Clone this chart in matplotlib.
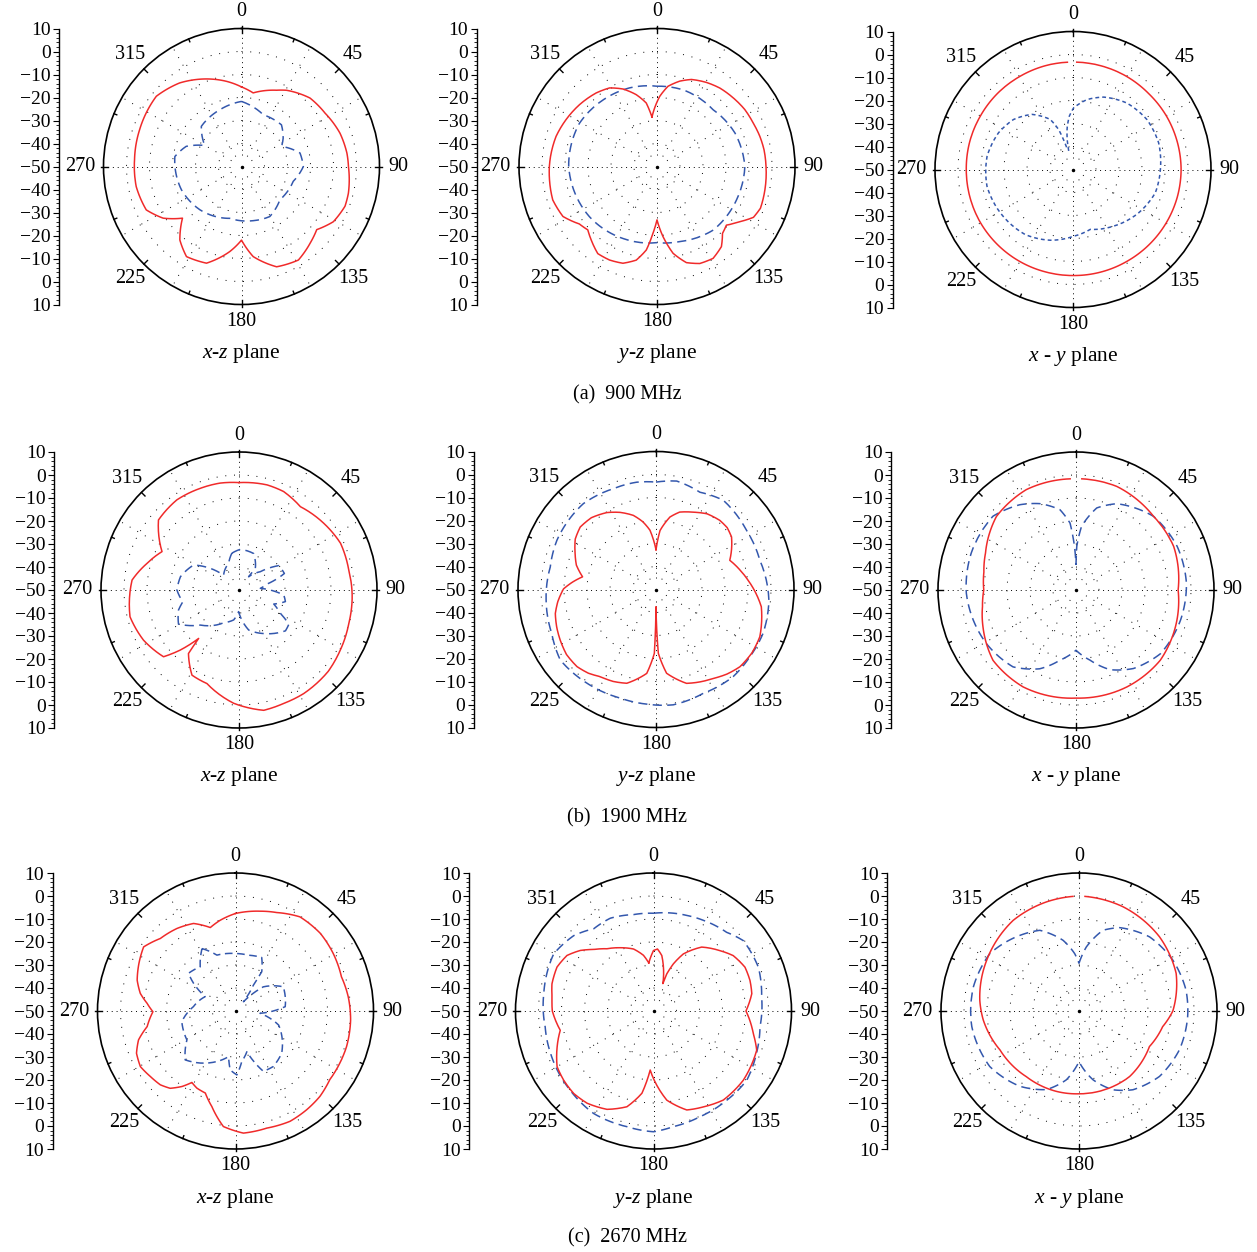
import numpy as np
import matplotlib
matplotlib.use("Agg")
import matplotlib.pyplot as plt
from matplotlib.ticker import MultipleLocator

plt.rcParams['font.family'] = ['Liberation Serif', 'DejaVu Serif']
plt.rcParams['mathtext.fontset'] = 'custom'
plt.rcParams['mathtext.it'] = 'Liberation Serif:italic'
plt.rcParams['mathtext.rm'] = 'Liberation Serif'

W, H = 1257, 1252

# ---- data: angle (deg, clockwise from top) and gain (dB) ----
# 900 MHz
xz900_red_ang = [0, 9, 24.7, 30.6, 45, 57.4, 71.3, 82.8, 90, 104, 111, 121, 130, 138, 148.7, 160.7,
                 172.6, 180, 187.8, 199.9, 211.4, 220, 228.8, 236.6, 245.5, 259.2, 273.6, 289.8, 309.5,
                 323.5, 338.2, 350]
xz900_red_db = [-15.4, -17.6, -13.5, -11.5, -7.9, -6.9, -4.8, -3.8, -3.5, -2.1, -1.8, -3.4, -7.3, -5.3,
                -2.4, -3.8, -10.5, -18.0, -12.7, -5.3, -4.1, -8.3, -15.9, -9.2, -4.5, -3.4, -3.4, -2.9,
                -2.0, -4.8, -9.0, -12.4]
xz900_blue_ang = [0, 22.8, 43.8, 55.8, 63.4, 77, 90, 106, 131, 150.5, 167.8, 192.7, 223.9, 248.7, 278.5,
                  290, 299.8, 315, 339]
xz900_blue_db = [-21.7, -25.6, -24.9, -28.1, -30.5, -23.9, -23.1, -26.6, -27.9, -25.0, -25.9, -26.9,
                 -23.9, -22.0, -20.7, -24.4, -31.6, -25.3, -23.6]

yz900_red_ang = [-5.8, 2.2, 7.8, 14.9, 21.6, 30.4, 38.7, 48, 57, 65.7, 73.7, 81.1, 90, 102.2, 112,
                 117.8, 123.6, 130.2, 135.6, 141.2, 148.6, 156.2, 163, 169.5, 175.1, 180, 183.4, 187.3,
                 192.5, 199.4, 206.9, 214.2, 221.8, 227.5, 233.5, 242, 252.2, 262.9, 270, 275.4, 286.6,
                 297.2, 308.6, 320.4, 328.9, 336.3, 343.9, 350.4]
yz900_red_db = [-28.4, -19.5, -14.8, -11.6, -9.3, -7.6, -6.3, -5.4, -4.5, -4.1, -3.4, -2.9, -2.6, -2.0,
                -1.5, -2.6, -6.7, -10.5, -9.3, -5.3, -3.2, -3.9, -6.3, -11.6, -19.4, -26.8, -21.0, -13.4,
                -8.3, -5.4, -4.4, -4.2, -7.1, -9.2, -8.0, -3.7, -2.4, -2.9, -3.2, -3.5, -4.2, -5.5, -6.9,
                -8.5, -10.1, -13.2, -17.5, -22.0]
yz900_blue_ang = [0, 20, 44.7, 66.8, 90, 112.8, 138.5, 163, 180, 205, 233.4, 270, 299, 323.4, 340.8]
yz900_blue_db = [-15.1, -14.8, -15.3, -13.1, -11.8, -12.5, -13.1, -15.9, -16.9, -15.4, -13.4, -11.6,
                 -11.4, -12.9, -13.8]

xy900_red_ang = [2, 15, 30, 45, 60, 75, 90, 105, 120, 135, 150, 165, 180, 195, 210, 225, 240, 255, 270,
                 285, 300, 315, 330, 345, 357]
xy900_red_db = [-3.3, -3.3, -3.3, -3.4, -3.2, -3.1, -3.0, -3.1, -3.3, -3.5, -3.7, -3.8, -3.9, -3.9, -3.8,
                -3.7, -3.6, -3.6, -3.6, -3.5, -3.5, -3.4, -3.4, -3.3, -3.3]
xy900_blue_ang = [-13, -11, -8, -4, 0.6, 11.3, 23, 39, 56, 72.7, 90, 105.8, 123.4, 144.3, 163.9, 179.4,
                  197.8, 216.3, 239.2, 259, 278.8, 296.3, 310, 323.3, 335.6, 340.3, 344]
xy900_blue_db = [-41.7, -36.7, -31.7, -26.8, -23.2, -19.0, -15.8, -12.8, -11.2, -11.0, -12.0, -12.8,
                 -15.8, -19.7, -22.9, -21.0, -17.7, -14.9, -13.2, -11.9, -12.2, -13.9, -16.2, -20.1,
                 -26.1, -31.6, -40.0]

# 1900 MHz
xz1900_red_ang = [0, 15, 24.4, 36.4, 51.8, 65.3, 79.7, 93.4, 106.9, 120.6, 132.4, 148, 158.5, 168.4,
                  182.7, 198.9, 208.9, 218.5, 219.8, 224.4, 228.5, 242.3, 256.2, 275.3, 286.2, 296.5, 311,
                  325.4, 339.2, 350]
xz1900_red_db = [-3.3, -2.7, -3.0, -5.0, -3.1, -1.4, -1.5, -0.7, -0.1, 1.2, 2.5, 3.1, 3.0, 3.4, -0.7,
                 -7.0, -7.7, -14.7, -22.6, -13.4, -6.2, -3.1, -1.2, -3.3, -8.4, -12.6, -3.6, -2.4, -2.7,
                 -2.8]
xz1900_blue_ang = [-11, 2, 21.8, 37, 36, 49.3, 58.5, 70, 78, 85.5, 96.4, 104, 112, 119.4, 124.4, 131.3,
                   150.3, 166.4, 181, 190, 205, 227.8, 240.6, 251.7, 258, 270, 282.8, 298.9, 307, 314, 339]
xz1900_blue_db = [-33.7, -32.3, -32.9, -38.2, -42.9, -37.8, -29.7, -29.0, -37.5, -40.7, -30.4, -29.2,
                  -33.7, -29.4, -23.7, -23.1, -28.2, -32.1, -40.6, -36.8, -34.3, -27.3, -19.8, -22.3,
                  -25.0, -23.0, -23.9, -27.5, -34.3, -40.7, -37.5]

yz1900_red_ang = [0, 3.9, 10.9, 17, 25.7, 34, 42.7, 49, 55.2, 62, 68.4, 77, 84.2, 99.3, 114.5, 123.5,
                  132.6, 140, 147.2, 155, 162, 172.8, 177.9, 180, 181.5, 186.3, 197.3, 205, 212.7, 219,
                  225.7, 234, 242.2, 249, 256.6, 263, 270.4, 275, 279.8, 287, 294, 302, 309.5, 318,
                  327.4, 335, 343, 349, 354.2]
yz1900_red_db = [-32.7, -24.3, -17.9, -14.8, -12.7, -10.3, -9.1, -9.0, -10.0, -12.8, -15.5, -12.5,
                 -9.8, -3.6, -0.4, 0.0, -0.4, -2.0, -4.0, -5.6, -7.1, -13.3, -22.2, -42.5, -22.2, -13.3,
                 -7.3, -5.9, -5.0, -3.2, -2.0, -1.9, -2.9, -3.8, -5.0, -7.0, -9.8, -13.5, -17.6, -13.8,
                 -11.5, -8.6, -7.3, -8.0, -10.3, -13.0, -16.3, -20.0, -24.1]
yz1900_blue_ang = [0, 10.8, 24.3, 37, 56.8, 74.2, 95.4, 112.3, 125.6, 138.5, 155.5, 171.5, 184.6, 198.3,
                   216.4, 233.6, 247.1, 264.5, 282, 296.4, 319.8, 337, 349.8]
yz1900_blue_db = [-3.3, -2.0, -3.6, -1.4, -3.0, -3.1, -0.7, 0.3, 0.2, 0.6, -0.4, 0.7, 0.0, -0.3, 0.6,
                  1.7, -0.8, -2.0, -3.0, -1.9, -1.1, -2.4, -2.6]

xy1900_red_ang = [3, 21.5, 46.5, 66, 90, 110.3, 129.8, 152.3, 180, 208.6, 229.7, 248.4, 259.9, 270, 281,
                  292.2, 312.7, 333.7, 357]
xy1900_red_db = [-1.6, -1.6, -3.5, -3.5, -5.6, -3.9, -2.3, -2.4, -3.0, -2.0, -2.7, -6.5, -8.7, -9.9,
                 -9.2, -7.5, -2.9, -1.3, -1.6]
xy1900_blue_ang = [0, 1, 5, 14.2, 25.3, 46.5, 66.7, 86.5, 106, 127, 143.8, 156.8, 168.7, 180, 192.9,
                   204.7, 219.3, 239.2, 268.3, 289.4, 311.6, 326.6, 337.3, 348.7, 354.9, 358]
xy1900_blue_db = [-39.1, -31.1, -22.2, -13.2, -8.5, -3.5, -2.1, -1.9, -2.7, -4.0, -7.7, -12.3, -18.9,
                  -23.8, -18.7, -12.3, -6.8, -4.6, -2.3, -1.7, -1.7, -5.6, -9.3, -14.4, -20.8, -31.0]

# 2670 MHz
xz2670_red_ang = [0, 13.9, 22.7, 34.4, 47.5, 59.5, 72.1, 82.8, 94.5, 107.8, 116.6, 126, 135.3, 144,
                  153.7, 165, 176.3, 186, 193.9, 200.2, 206.6, 211.4, 215.3, 220.2, 225.5, 232.4, 239.7,
                  246.9, 253.4, 260, 269.5, 275, 280.5, 287.4, 296.2, 304.9, 314, 324.6, 334.4, 343.2,
                  350.4]
xz2670_red_db = [-7.6, -5.3, -3.6, -0.4, 0.0, -0.7, -1.6, -0.6, 0.2, 0.7, 0.7, 0.7, 2.2, 2.9, 3.5, 2.7,
                 3.2, 0.5, -7.2, -12.0, -12.5, -13.6, -9.8, -6.0, -4.2, -3.3, -2.1, -3.2, -6.0, -11.0,
                 -14.1, -11.4, -7.9, -5.2, -3.2, -1.3, -4.6, -6.0, -7.8, -12.1, -10.0]
xz2670_blue_ang = [-28.2, -18.4, -0.3, 13.1, 26.1, 33.8, 34.7, 40.6, 49, 63.1, 85, 95.4, 108, 132.4,
                   145.7, 155.2, 164.4, 172.9, 178.8, 185.2, 188.7, 200.2, 214, 225.8, 239.2, 258.8,
                   275.9, 295.3, 303.4, 308.7, 321.4]
xz2670_blue_db = [-19.2, -24.4, -25.0, -25.1, -24.1, -29.5, -36.3, -44.7, -34.0, -26.7, -28.3, -39.3,
                  -30.3, -22.8, -20.8, -21.1, -31.6, -27.9, -22.2, -24.3, -29.9, -26.6, -22.7, -19.5,
                  -25.4, -26.2, -31.6, -35.4, -28.2, -23.8, -25.4]

yz2670_red_ang = [-5.6, 0, 3.7, 8.5, 18.9, 19.7, 22.9, 27.6, 37, 47.7, 55.2, 64.4, 72.4, 80, 90, 102.8,
                  110.8, 127.6, 141.9, 152.5, 161.4, 171.5, 183.2, 188, 195.5, 205.3, 215.7, 224, 232.4,
                  240, 249.6, 258.3, 270, 277.8, 285, 294.5, 302.7, 309.6, 315.8, 323.2, 332.2, 342.2,
                  349.8]
yz2670_red_db = [-29.0, -23.7, -23.0, -25.6, -37.4, -32.8, -27.7, -22.0, -15.2, -11.0, -7.8, -5.9,
                 -6.0, -6.6, -9.8, -5.5, -2.0, -0.7, -0.8, -3.0, -4.6, -10.8, -24.3, -13.9, -6.8, -2.7,
                 -0.6, -0.1, -0.7, -1.6, -5.3, -8.6, -6.0, -5.5, -4.3, -3.9, -5.3, -8.7, -12.7, -16.2,
                 -18.9, -21.7, -25.4]
yz2670_blue_ang = [0, 19.2, 28.9, 42.9, 51.9, 67.3, 82.6, 98.5, 112.4, 126.6, 140.6, 156.2, 170.2, 180,
                   192.9, 210.3, 226.4, 247.6, 261.6, 279, 299.8, 313.4, 324, 335, 348.3]
yz2670_blue_db = [-7.5, -6.0, -5.0, -3.3, -0.4, -0.6, -2.6, -3.2, -1.6, 0.5, 0.2, 0.2, 1.0, 2.5, 1.6,
                  1.6, 0.0, -1.6, -2.4, -1.7, 0.0, -2.3, -5.8, -5.5, -7.2]

xy2670_red_ang = [3, 22.9, 47.3, 68.8, 90, 100.6, 116.8, 127.4, 142.3, 155.8, 180, 195.7, 218.7, 243.8,
                  264.6, 276.3, 298.8, 324, 343.4, 357]
xy2670_red_db = [-0.1, -0.8, -2.4, -4.7, -9.2, -13.0, -15.7, -15.0, -14.0, -14.0, -14.0, -13.7, -13.4,
                 -11.7, -8.2, -6.6, -4.2, -1.3, -0.5, -0.1]
xy2670_blue_ang = [0, 6.5, 16.5, 25.9, 43.6, 61.5, 78.9, 93, 111.2, 129.1, 145.6, 156.7, 168.5, 180,
                   190.4, 202.5, 218.1, 238.1, 261.7, 282.9, 302.8, 319.9, 334.1, 347.3, 355.7]
xy2670_blue_db = [-29.3, -22.0, -13.4, -9.7, -5.5, -3.6, -2.6, -2.7, -3.2, -4.9, -8.5, -12.7, -19.5,
                  -28.0, -19.6, -13.0, -8.4, -4.3, -2.9, -2.9, -3.9, -7.8, -11.0, -18.5, -25.0]

angle_labels = ['0', '45', '90', '135', '180', '225', '270', '315']
angle_labels_c = ['0', '45', '90', '135', '180', '225', '270', '351']
db_ticks = list(range(-60, 61, 10))
db_labels = [str(abs(v) - 50).replace('-', '\u2212') for v in db_ticks]
captions = ['(a)  900 MHz', '(b)  1900 MHz', '(c)  2670 MHz']
plane_labels = [r'$x$-$z$ plane', r'$y$-$z$ plane', r'$x$ - $y$ plane']

# (center x px, center y px, dB axis x px)
layout = [(241.5, 166.5, 59), (657, 166.5, 476.5), (1073, 169.5, 892.5),
          (239, 590, 54), (656, 589.5, 473.5), (1076, 590, 891),
          (235.5, 1011, 52.5), (653.5, 1011, 469), (1079, 1011, 887)]
RAD = 138

curves = [
    (xz900_red_ang, xz900_red_db, True, xz900_blue_ang, xz900_blue_db, True, (6, 3.5)),
    (yz900_red_ang, yz900_red_db, True, yz900_blue_ang, yz900_blue_db, True, (6, 3.5)),
    (xy900_red_ang, xy900_red_db, False, xy900_blue_ang, xy900_blue_db, False, (2.5, 2)),
    (xz1900_red_ang, xz1900_red_db, True, xz1900_blue_ang, xz1900_blue_db, True, (6, 3.5)),
    (yz1900_red_ang, yz1900_red_db, True, yz1900_blue_ang, yz1900_blue_db, True, (6, 3.5)),
    (xy1900_red_ang, xy1900_red_db, False, xy1900_blue_ang, xy1900_blue_db, True, (6, 3.5)),
    (xz2670_red_ang, xz2670_red_db, True, xz2670_blue_ang, xz2670_blue_db, True, (5, 3)),
    (yz2670_red_ang, yz2670_red_db, True, yz2670_blue_ang, yz2670_blue_db, True, (6, 3.5)),
    (xy2670_red_ang, xy2670_red_db, False, xy2670_blue_ang, xy2670_blue_db, True, (6, 3.5)),
]

RED = '#f02a2a'
BLUE = '#3357ad'


def closed(ang, db, close):
    a = list(ang)
    d = list(db)
    if close:
        a.append(a[0] + 360)
        d.append(d[0])
    return np.deg2rad(a), np.array(d)


def polar_line(ax, t, d, **kw):
    # let the polar transform draw each segment as a curve in (theta, r)
    ln, = ax.plot(t, d, **kw)
    ln.get_path()._interpolation_steps = 12
    return ln


fig = plt.figure(figsize=(W / 100, H / 100), dpi=100)

for i, (cx, cy, dbx) in enumerate(layout):
    ax = fig.add_axes([(cx - RAD) / W, 1 - (cy + RAD) / H, 2 * RAD / W, 2 * RAD / H],
                      projection='polar')
    ax.set_theta_zero_location('N')
    ax.set_theta_direction(-1)
    ax.set_ylim(-50, 10)
    ax.grid(False)
    ax.set_xticks([])
    ax.set_yticks([])
    ax.spines['polar'].set_linewidth(1.2)
    ax.patch.set_alpha(0)

    # dotted grid
    tt = np.linspace(0, 2 * np.pi, 361)
    for rr in [-40, -30, -20, -10, 0]:
        ax.plot(tt, np.full_like(tt, rr), color='k', lw=0.7, ls=(0, (1, 8)))
    for th in range(0, 360, 30):
        ax.plot([np.deg2rad(th)] * 2, [-45, 10], color='k', lw=0.7,
                ls=(0, (1, 4)) if th % 90 == 0 else (0, (1, 8)))
    ax.plot([0], [-50], 'k.', ms=3)

    # frame ticks
    for th in np.arange(0, 360, 22.5):
        t = np.deg2rad(th)
        if th % 90 == 0:
            ax.plot([t, t], [8.0, 11.0], color='k', lw=1.0, clip_on=False)
        elif th % 45 == 0:
            ax.plot([t, t], [7.8, 10], color='k', lw=1.0, clip_on=False)
        else:
            ax.plot([t, t], [8.7, 10], color='k', lw=1.0, clip_on=False)

    labs = angle_labels_c if i == 7 else angle_labels
    for k, lab in enumerate(labs):
        th = k * 45
        if th in (0, 180):
            r = 17.2
        elif th == 90:
            r = 18.2
        elif th == 270:
            r = 20.2
        else:
            r = 18.6
        ax.text(np.deg2rad(th), r, lab, ha='center', va='center', fontsize=14.5, clip_on=False)

    ra, rd, rc, ba, bd, bc, dash = curves[i]
    t, d = closed(ba, bd, bc)
    polar_line(ax, t, d, color=BLUE, lw=1.1, ls=(0, dash))
    t, d = closed(ra, rd, rc)
    polar_line(ax, t, d, color=RED, lw=1.1)

    # dB scale on the left
    sa = fig.add_axes([dbx / W, 1 - (cy + RAD) / H, 0.0001, 2 * RAD / H])
    sa.set_ylim(-60, 60)
    sa.set_xticks([])
    for s in ['top', 'right', 'bottom']:
        sa.spines[s].set_visible(False)
    sa.spines['left'].set_linewidth(1.0)
    sa.set_yticks(db_ticks)
    sa.set_yticklabels(db_labels)
    sa.yaxis.set_minor_locator(MultipleLocator(2))
    sa.tick_params(axis='y', which='major', direction='out', length=4, width=0.8,
                   labelsize=14, pad=2)
    sa.tick_params(axis='y', which='minor', direction='out', length=2, width=0.6)
    sa.patch.set_alpha(0)

    fig.text(cx / W, 1 - (cy + 187) / H, plane_labels[i % 3], ha='center', va='center', fontsize=15.5)

for row, cap in enumerate(captions):
    ys = [395, 818, 1238][row]
    fig.text(627 / W, 1 - ys / H, cap, ha='center', va='center', fontsize=14.5)

fig.savefig('out.png', dpi=100, facecolor='white')
